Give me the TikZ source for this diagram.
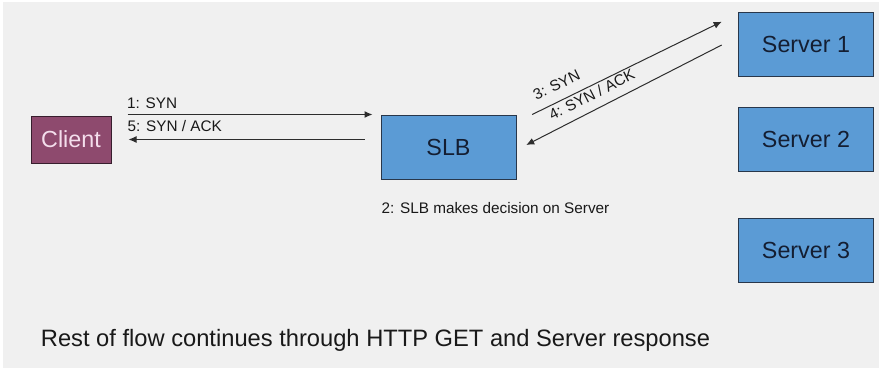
\documentclass[tikz,border=0pt]{standalone}
\usepackage{fontspec}
\setmainfont{Liberation Sans}
\usetikzlibrary{arrows.meta,calc}
\definecolor{bg}{RGB}{240,240,240}
\definecolor{clientfill}{RGB}{142,74,110}
\definecolor{clienttext}{RGB}{244,222,236}
\definecolor{clientdraw}{RGB}{55,30,45}
\definecolor{boxfill}{RGB}{91,155,213}
\definecolor{boxdraw}{RGB}{40,55,75}
\definecolor{boxtext}{RGB}{20,30,50}
\definecolor{arrowc}{RGB}{45,45,45}
\definecolor{txt}{RGB}{25,25,25}
\begin{document}
\begin{tikzpicture}[x=1pt,y=-1pt,
  bigfont/.style={font=\fontsize{23.3}{27}\selectfont},
  smallfont/.style={font=\fontsize{15.3}{18}\selectfont},
  box/.style={draw=boxdraw, line width=1pt, fill=boxfill, text=boxtext, bigfont,
    minimum width=135pt, minimum height=64pt, inner sep=0pt},
  clientbox/.style={draw=clientdraw, line width=1pt, fill=clientfill, text=clienttext, bigfont,
    minimum width=80pt, minimum height=47pt, inner sep=0pt},
  arr/.style={draw=arrowc, line width=1pt, -{Latex[length=8pt,width=7pt]}},
  lbl/.style={smallfont, text=txt, inner sep=0pt}
]
\fill[white] (0,0) rectangle (879,368);
\fill[bg] (3,2) rectangle (879,368);
\useasboundingbox (0,0) rectangle (879,368);

\node[clientbox] (client) at (71,139.5) {Client};
\node[box] (slb) at (448.5,147) {SLB};
\node[box] (server1) at (806,44) {Server 1};
\node[box] (server2) at (806,139.5) {Server 2};
\node[box] (server3) at (806,250) {Server 3};

\coordinate (c1s) at ($(client.north east)+(16,-1)$);
\coordinate (c1e) at ($(slb.north west)+(-8,0)$);
\coordinate (c5s) at ($(slb.west)+(-16,-7.5)$);
\coordinate (c5e) at ($(client.east)+(17,0)$);
\coordinate (c3s) at ($(slb.north east)+(15.7,0)$);
\coordinate (c3e) at ($(server1.west)+(-16.3,-22.3)$);
\coordinate (c4s) at ($(server1.west)+(-16.3,1)$);
\coordinate (c4e) at ($(slb.east)+(9.7,-2)$);

\draw[arr] (c1s) -- (c1e);
\draw[arr] (c5s) -- (c5e);
\draw[arr] (c3s) -- (c3e) node[lbl, sloped, pos=0.165, above=10pt] (l3) {3: SYN};
\draw[arr, {Latex[length=8pt,width=7pt]}-] (c4e) -- (c4s) node[lbl, sloped, pos=0.37, above=9pt] (l4) {4: SYN / ACK};

\node[lbl, anchor=base west] (l1) at (127,108.3) {1: SYN};
\node[lbl, anchor=base west] (l5) at (127.5,131.7) {5: SYN / ACK};
\node[lbl, anchor=base west] (decide) at (381.5,213.3) {2: SLB makes decision on Server};
\node[font=\fontsize{23.7}{28}\selectfont, text=txt, inner sep=0pt, anchor=base west] (note) at (40.7,346) {Rest of flow continues through HTTP GET and Server response};
\end{tikzpicture}
\end{document}
